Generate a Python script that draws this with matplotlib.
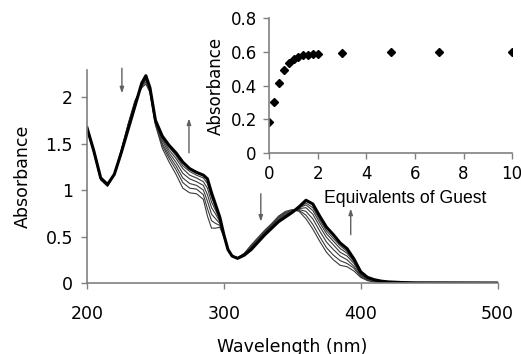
import numpy as np
import matplotlib
matplotlib.use('Agg')
import matplotlib.pyplot as plt

# wavelength grid (nm) and spectra
wavelength = [200, 205, 210, 215, 220, 225, 230, 235, 240, 243, 246, 250, 255, 260, 265,
              270, 275, 280, 285, 288, 291, 294, 297, 300, 303, 306, 310, 315, 320, 325,
              330, 335, 340, 345, 350, 355, 360, 365, 370, 375, 380, 385, 390, 395, 400,
              405, 410, 415, 420, 430, 440, 500]

abs_start = [1.66, 1.40, 1.11, 1.04, 1.17, 1.43, 1.71, 1.96, 2.10, 2.14, 2.05, 1.70, 1.45, 1.30, 1.17,
             1.02, 0.97, 0.96, 0.90, 0.72, 0.59, 0.59, 0.60, 0.50, 0.36, 0.29, 0.27, 0.32, 0.41, 0.49,
             0.57, 0.64, 0.72, 0.77, 0.79, 0.77, 0.69, 0.58, 0.45, 0.33, 0.25, 0.19, 0.175, 0.13, 0.06,
             0.025, 0.01, 0.004, 0.002, 0.0, 0.0, 0.0]
abs_step1 = [1.66, 1.40, 1.11, 1.04, 1.17, 1.42, 1.70, 1.95, 2.11, 2.16, 2.06, 1.71, 1.48, 1.34, 1.22,
             1.08, 1.02, 1.01, 0.95, 0.80, 0.67, 0.64, 0.62, 0.50, 0.36, 0.29, 0.27, 0.32, 0.40, 0.48,
             0.56, 0.63, 0.71, 0.76, 0.78, 0.78, 0.73, 0.63, 0.50, 0.38, 0.30, 0.24, 0.21, 0.16, 0.07,
             0.03, 0.015, 0.006, 0.004, 0.001, 0.0, 0.0]
abs_step2 = [1.66, 1.41, 1.12, 1.05, 1.17, 1.42, 1.69, 1.94, 2.12, 2.18, 2.07, 1.72, 1.50, 1.37, 1.26,
             1.13, 1.07, 1.05, 1.00, 0.88, 0.74, 0.69, 0.64, 0.51, 0.36, 0.29, 0.27, 0.31, 0.39, 0.47,
             0.55, 0.62, 0.70, 0.75, 0.78, 0.79, 0.77, 0.69, 0.56, 0.44, 0.36, 0.29, 0.25, 0.18, 0.08,
             0.04, 0.02, 0.01, 0.006, 0.002, 0.0, 0.0]
abs_step3 = [1.67, 1.41, 1.12, 1.05, 1.17, 1.41, 1.68, 1.93, 2.13, 2.19, 2.08, 1.73, 1.53, 1.40, 1.30,
             1.18, 1.12, 1.09, 1.05, 0.95, 0.81, 0.74, 0.66, 0.51, 0.36, 0.29, 0.27, 0.31, 0.38, 0.46,
             0.54, 0.61, 0.69, 0.74, 0.77, 0.80, 0.81, 0.74, 0.61, 0.49, 0.41, 0.33, 0.29, 0.21, 0.09,
             0.04, 0.025, 0.012, 0.008, 0.003, 0.001, 0.0]
abs_step4 = [1.67, 1.41, 1.12, 1.05, 1.17, 1.41, 1.67, 1.92, 2.14, 2.21, 2.09, 1.74, 1.55, 1.43, 1.34,
             1.23, 1.16, 1.13, 1.09, 1.02, 0.87, 0.78, 0.68, 0.51, 0.36, 0.29, 0.27, 0.30, 0.37, 0.45,
             0.53, 0.60, 0.68, 0.73, 0.77, 0.81, 0.84, 0.78, 0.65, 0.53, 0.45, 0.37, 0.32, 0.23, 0.10,
             0.05, 0.03, 0.015, 0.009, 0.004, 0.001, 0.0]
abs_step5 = [1.67, 1.42, 1.13, 1.06, 1.17, 1.40, 1.66, 1.91, 2.14, 2.22, 2.09, 1.74, 1.56, 1.46, 1.37,
             1.26, 1.20, 1.16, 1.13, 1.07, 0.92, 0.81, 0.70, 0.52, 0.36, 0.29, 0.265, 0.30, 0.37, 0.45,
             0.53, 0.60, 0.67, 0.72, 0.76, 0.81, 0.86, 0.81, 0.68, 0.56, 0.48, 0.40, 0.34, 0.24, 0.11,
             0.05, 0.03, 0.018, 0.01, 0.004, 0.002, 0.0]
abs_final = [1.67, 1.42, 1.13, 1.06, 1.17, 1.40, 1.65, 1.90, 2.15, 2.23, 2.10, 1.75, 1.58, 1.48, 1.40,
             1.30, 1.23, 1.19, 1.16, 1.12, 0.97, 0.84, 0.71, 0.52, 0.36, 0.29, 0.265, 0.30, 0.36, 0.44,
             0.52, 0.59, 0.66, 0.71, 0.76, 0.82, 0.89, 0.85, 0.72, 0.60, 0.52, 0.43, 0.37, 0.26, 0.12,
             0.06, 0.035, 0.02, 0.012, 0.005, 0.002, 0.0]

# inset: titration curve
equivalents = [0, 0.2, 0.4, 0.6, 0.8, 1.0, 1.2, 1.4, 1.6, 1.8, 2.0, 3, 5, 7, 10]
inset_abs = [0.185, 0.30, 0.413, 0.492, 0.532, 0.558, 0.57, 0.58, 0.584, 0.588, 0.588,
             0.592, 0.598, 0.598, 0.60]

main_xticks = [200, 300, 400, 500]
main_yticks = [0, 0.5, 1, 1.5, 2]
main_yticklabels = ['0', '0.5', '1', '1.5', '2']
inset_xticks = [0, 2, 4, 6, 8, 10]
inset_yticks = [0, 0.2, 0.4, 0.6, 0.8]
inset_yticklabels = ['0', '0.2', '0.4', '0.6', '0.8']

plt.rcParams['font.family'] = ['DejaVu Sans']
spine_col = '#808080'

fig = plt.figure(figsize=(5.21, 3.54), dpi=100)
ax = fig.add_axes([0.167, 0.2006, 0.788, 0.6014])

for spec in [abs_start, abs_step1, abs_step2, abs_step3, abs_step4, abs_step5]:
    ax.plot(wavelength, spec, color='#3a3a3a', linewidth=0.8)
ax.plot(wavelength, abs_final, color='black', linewidth=2.2)

ax.set_xlim(200, 500)
ax.set_ylim(0, 2.29)
ax.set_xticks(main_xticks)
ax.set_xticklabels([str(t) for t in main_xticks])
ax.set_yticks(main_yticks)
ax.set_yticklabels(main_yticklabels)
ax.tick_params(labelsize=12.5, length=4, width=1, color=spine_col, direction='out')
ax.tick_params(axis='x', pad=12)
ax.tick_params(axis='y', pad=6)
for side in ['top', 'right']:
    ax.spines[side].set_visible(False)
for side in ['left', 'bottom']:
    ax.spines[side].set_color(spine_col)
    ax.spines[side].set_linewidth(1.2)
ax.set_xlabel('Wavelength (nm)', fontsize=12.5, labelpad=10.5)
ax.set_ylabel('Absorbance', fontsize=12.5, labelpad=10)

# arrows showing direction of change
arrows = [(225.5, 2.31, 2.04), (274.5, 1.40, 1.77), (327, 0.96, 0.66), (392.7, 0.52, 0.80)]
for x, y0, y1 in arrows:
    ax.annotate('', xy=(x, y1), xytext=(x, y0), annotation_clip=False,
                arrowprops=dict(arrowstyle='-|>,head_length=0.35,head_width=0.12',
                                color='#606060', lw=1.0, shrinkA=0, shrinkB=0))

ins = fig.add_axes([0.517, 0.5686, 0.466, 0.3797])
ins.patch.set_alpha(0)
ins.plot(equivalents, inset_abs, linestyle='none', marker='D', markersize=4.5, color='black')
ins.set_xlim(0, 10)
ins.set_ylim(0, 0.8)
ins.set_xticks(inset_xticks)
ins.set_yticks(inset_yticks)
ins.set_yticklabels(inset_yticklabels)
ins.tick_params(labelsize=12, length=4, width=1, color=spine_col, direction='out', pad=5)
for side in ['top', 'right']:
    ins.spines[side].set_visible(False)
for side in ['left', 'bottom']:
    ins.spines[side].set_color(spine_col)
    ins.spines[side].set_linewidth(1.2)
ins.set_xlabel('Equivalents of Guest', fontsize=12.7, family=['Liberation Sans'])
ins.xaxis.label.set_va('baseline')
ins.xaxis.set_label_coords(0.558, -0.374)
ins.set_ylabel('Absorbance', fontsize=12, labelpad=4)

fig.savefig('out.png', dpi=100)
